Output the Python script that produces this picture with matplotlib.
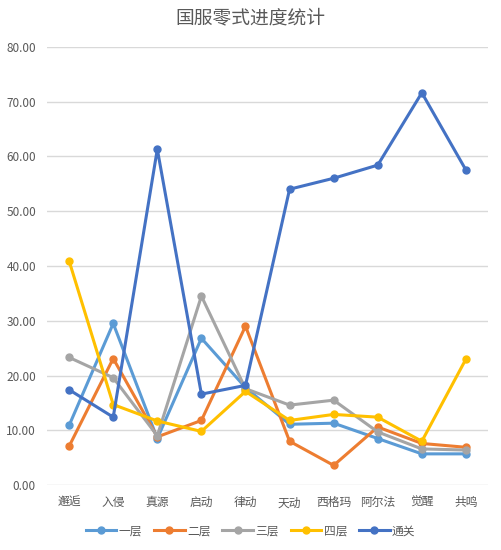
import matplotlib
matplotlib.use('Agg')
import matplotlib.pyplot as plt

plt.rcParams['font.family'] = ['Noto Sans CJK SC', 'DejaVu Sans']

categories = ['邂逅', '入侵', '真源', '启动', '律动', '天动', '西格玛', '阿尔法', '觉醒', '共鸣']
layer1 = [10.9, 29.5, 8.5, 26.8, 17.8, 11.1, 11.3, 8.5, 5.7, 5.7]
layer2 = [7.1, 23.1, 8.8, 11.8, 29.0, 8.0, 3.6, 10.6, 7.6, 6.9]
layer3 = [23.3, 19.6, 9.0, 34.5, 17.6, 14.6, 15.5, 9.7, 6.6, 6.4]
layer4 = [40.9, 14.7, 11.7, 9.8, 17.1, 11.8, 12.9, 12.4, 8.0, 23.0]
cleared = [17.4, 12.4, 61.3, 16.6, 18.2, 54.0, 56.0, 58.4, 71.6, 57.5]

series = [('一层', layer1, '#5B9BD5'),
          ('二层', layer2, '#ED7D31'),
          ('三层', layer3, '#A5A5A5'),
          ('四层', layer4, '#FFC000'),
          ('通关', cleared, '#4472C4')]

fig = plt.figure(figsize=(5.01, 5.5), dpi=100)
ax = fig.add_axes([0.094, 0.118, 0.88, 0.797])

x = range(len(categories))
for name, vals, col in series:
    ax.plot(x, vals, color=col, lw=2.2, marker='o', ms=5, label=name,
            solid_joinstyle='round')

ax.set_xlim(-0.5, len(categories) - 0.5)
ax.set_ylim(0, 80)
ax.set_yticks(range(0, 81, 10))
ax.set_yticklabels(['%.2f' % v for v in range(0, 81, 10)])
ax.set_xticks(list(x))
ax.set_xticklabels(categories)
ax.grid(axis='y', color='#D9D9D9', lw=1)
ax.set_axisbelow(True)
for s in ax.spines.values():
    s.set_visible(False)
ax.tick_params(length=0, colors='#595959', labelsize=8.5)
ax.tick_params(axis='x', pad=8)
ax.tick_params(axis='y', pad=8)

fig.text(0.5, 0.967, '国服零式进度统计', ha='center', va='center',
         fontsize=13.5, color='#595959')

fig.legend(loc='center', bbox_to_anchor=(0.5, 0.035), ncol=5, frameon=False,
           fontsize=8.5, labelcolor='#595959', handlelength=2.6,
           columnspacing=1.0, handletextpad=0.2)

fig.savefig('out.png', dpi=100)
